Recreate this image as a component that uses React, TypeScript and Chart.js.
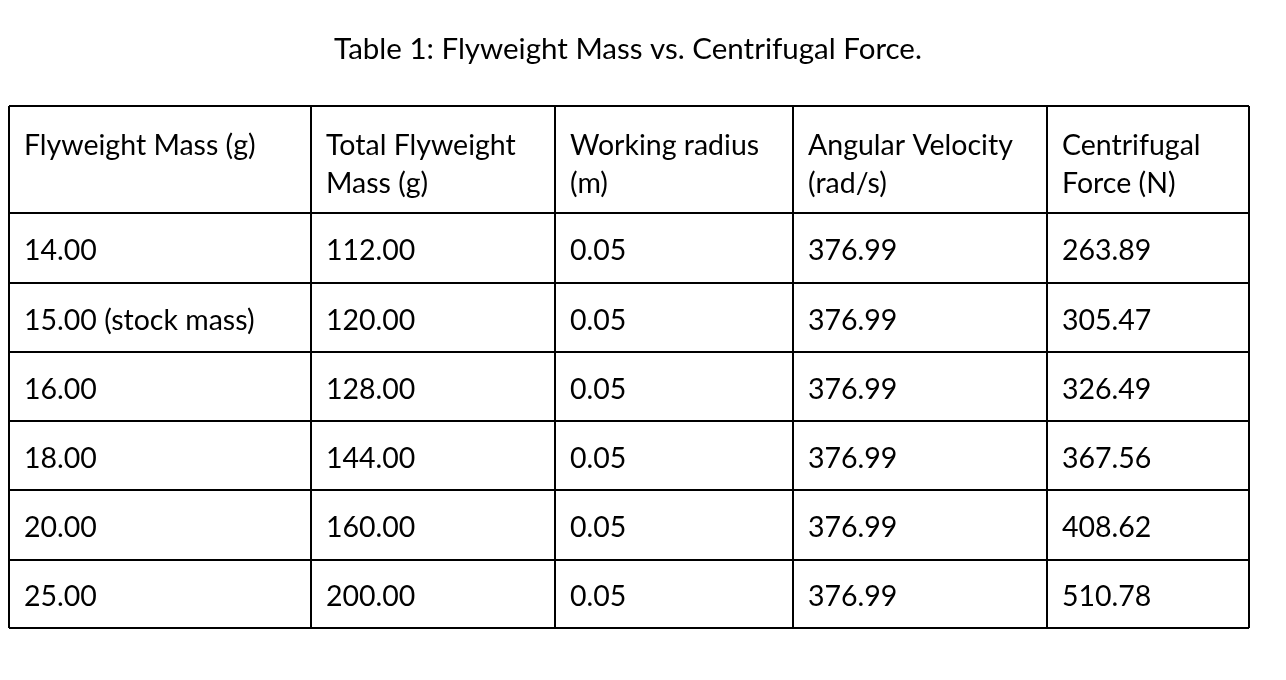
import { useEffect, useRef } from 'react'
import { Chart, registerables } from 'chart.js'

Chart.register(...registerables)

const title = 'Table 1: Flyweight Mass vs. Centrifugal Force.'
const headers = [
  ['Flyweight Mass (g)'],
  ['Total Flyweight', 'Mass (g)'],
  ['Working radius', '(m)'],
  ['Angular Velocity', '(rad/s)'],
  ['Centrifugal', 'Force (N)'],
]
const flyweightMass = ['14.00', '15.00 (stock mass)', '16.00', '18.00', '20.00', '25.00']
const totalMass = ['112.00', '120.00', '128.00', '144.00', '160.00', '200.00']
const workingRadius = ['0.05', '0.05', '0.05', '0.05', '0.05', '0.05']
const angularVelocity = ['376.99', '376.99', '376.99', '376.99', '376.99', '376.99']
const centrifugalForce = ['263.89', '305.47', '326.49', '367.56', '408.62', '510.78']

const colEdges = [9, 311, 555, 793, 1047, 1249]
const rowEdges = [106, 213, 283, 352, 421, 490, 560, 628]
const FONT = '28.5px Lato, "Open Sans", sans-serif'
const TITLE_FONT = '29.5px Lato, "Open Sans", sans-serif'

export default function App() {
  const canvasRef = useRef<HTMLCanvasElement>(null)

  useEffect(() => {
    if (!canvasRef.current) return
    const columns = [flyweightMass, totalMass, workingRadius, angularVelocity, centrifugalForce]

    const tablePlugin = {
      id: 'table',
      afterDraw(chart: Chart) {
        const ctx = chart.ctx
        const xs = chart.scales.x
        const ys = chart.scales.y
        ctx.save()
        ctx.fillStyle = '#fff'
        ctx.fillRect(0, 0, chart.width, chart.height)
        ctx.fillStyle = '#000'
        ctx.textBaseline = 'middle'
        ctx.textAlign = 'center'
        ctx.font = TITLE_FONT
        ctx.fillText(title, xs.getPixelForValue(628), ys.getPixelForValue(49))
        ctx.font = FONT
        ctx.textAlign = 'left'
        // borders
        ctx.strokeStyle = '#000'
        ctx.lineWidth = 2
        const x0 = xs.getPixelForValue(colEdges[0])
        const x1 = xs.getPixelForValue(colEdges[colEdges.length - 1])
        const y0 = ys.getPixelForValue(rowEdges[0])
        const y1 = ys.getPixelForValue(rowEdges[rowEdges.length - 1])
        ctx.beginPath()
        colEdges.forEach((c) => {
          const px = xs.getPixelForValue(c)
          ctx.moveTo(px, y0)
          ctx.lineTo(px, y1)
        })
        rowEdges.forEach((r) => {
          const py = ys.getPixelForValue(r)
          ctx.moveTo(x0, py)
          ctx.lineTo(x1, py)
        })
        ctx.stroke()
        // header
        headers.forEach((lines, i) => {
          const px = xs.getPixelForValue(colEdges[i] + 15)
          lines.forEach((t, j) => {
            ctx.fillText(t, px, ys.getPixelForValue(rowEdges[0] + 40 + j * 38))
          })
        })
        // body
        columns.forEach((col, i) => {
          const px = xs.getPixelForValue(colEdges[i] + 15)
          col.forEach((t, r) => {
            const cy = (rowEdges[r + 1] + rowEdges[r + 2]) / 2
            ctx.fillText(t, px, ys.getPixelForValue(cy + 3))
          })
        })
        ctx.restore()
      },
    }

    const chart = new Chart(canvasRef.current, {
      type: 'scatter',
      data: { datasets: [] },
      options: {
        animation: false,
        responsive: false,
        layout: { padding: 0 },
        plugins: { legend: { display: false }, tooltip: { enabled: false } },
        scales: {
          x: { type: 'linear', min: 0, max: 1286, display: false },
          y: { type: 'linear', min: 0, max: 680, reverse: true, display: false },
        },
      },
      plugins: [tablePlugin],
    })
    return () => { chart.destroy() }
  }, [])

  return (
    <div style={{ position: 'fixed', left: 0, top: 0, width: 1286, height: 680, background: '#fff' }}>
      <canvas ref={canvasRef} width={1286} height={680} />
    </div>
  )
}
